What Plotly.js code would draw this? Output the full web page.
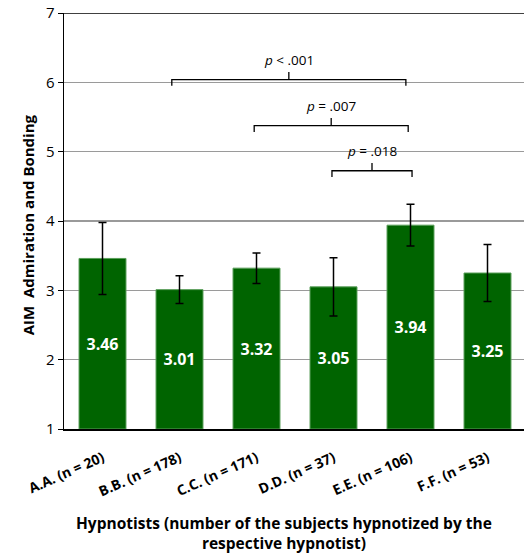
<!DOCTYPE html>
<html>
<head>
<meta charset="utf-8">
<script src="https://cdn.plot.ly/plotly-3.0.1.min.js"></script>
<style>html,body{margin:0;padding:0;background:#fff;}#chart{width:524px;height:556px;}</style>
</head>
<body>
<div id="chart"></div>
<script>
const categories = ["A.A. (n = 20)", "B.B. (n = 178)", "C.C. (n = 171)", "D.D. (n = 37)", "E.E. (n = 106)", "F.F. (n = 53)"];
const means = [3.46, 3.01, 3.32, 3.05, 3.94, 3.25];
const errors = [0.52, 0.20, 0.22, 0.42, 0.30, 0.41];
const yTicks = [1, 2, 3, 4, 5, 6, 7];
const axisMin = 1;

// significance brackets: start, end, level (line), label
const bracketStart = [0.90, 1.97, 2.98];
const bracketEnd = [3.94, 3.97, 4.02];
const bracketLevel = [6.04, 5.375, 4.725];
const bracketLabels = ["<i>p</i> < .001", "<i>p</i> = .007", "<i>p</i> = .018"];

const shapes = [];
const annotations = [];
for (let i = 0; i < bracketStart.length; i++) {
  const x1 = bracketStart[i], x2 = bracketEnd[i], y = bracketLevel[i];
  const xm = (x1 + x2) / 2;
  shapes.push({
    type: "path", xref: "x", yref: "y",
    path: `M ${x1} ${y - 0.09} L ${x1} ${y} L ${x2} ${y} L ${x2} ${y - 0.09} M ${xm} ${y} L ${xm} ${y + 0.11}`,
    line: {color: "#000", width: 1.3}
  });
  annotations.push({
    x: xm, y: y + 0.12, xref: "x", yref: "y", text: bracketLabels[i], showarrow: false,
    yanchor: "bottom", font: {family: "Open Sans, sans-serif", size: 13.5, color: "#000"}
  });
}
shapes.push({type: "line", xref: "paper", yref: "y", x0: 0, x1: 1, y0: 7, y1: 7, line: {color: "#000", width: 1.3}});

annotations.push({
  xref: "paper", yref: "paper", x: 0.478, y: -0.195, yanchor: "top", showarrow: false,
  text: "<b>Hypnotists (number of the subjects hypnotized by the<br>respective hypnotist)</b>",
  font: {family: "Open Sans, sans-serif", size: 15.5, color: "#000"}
});
annotations.push({
  xref: "paper", yref: "paper", x: -0.104, y: 0.49, textangle: -90, showarrow: false,
  text: "<b>AIM  Admiration and Bonding</b>",
  font: {family: "Open Sans, sans-serif", size: 15, color: "#000"}
});

const trace = {
  type: "bar",
  x: categories.map((c, i) => i),
  y: means.map(v => v - axisMin),
  base: axisMin,
  width: 0.61,
  marker: {color: "#006400", line: {color: "#5a9e5a", width: 1}},
  error_y: {type: "data", array: errors, visible: true, color: "#000", thickness: 1.5, width: 4},
  text: means.map(v => v.toFixed(2)),
  textposition: "inside",
  insidetextanchor: "middle",
  textfont: {family: "Open Sans, sans-serif", size: 16, color: "#fff", weight: "bold"},
  constraintext: "none",
  hoverinfo: "none"
};

const layout = {
  width: 524, height: 556,
  margin: {l: 64, r: 0, t: 13, b: 127},
  paper_bgcolor: "#fff", plot_bgcolor: "#fff",
  showlegend: false,
  xaxis: {
    range: [-0.5, 5.474],
    tickmode: "array", tickvals: categories.map((c, i) => i), ticktext: categories.map(c => "<b>" + c + "</b>"),
    tickangle: -24,
    ticklabelstandoff: 14,
    tickfont: {family: "Open Sans, sans-serif", size: 14, color: "#000"},
    showline: true, linecolor: "#000", linewidth: 1.5,
    ticks: "", showgrid: false, zeroline: false, fixedrange: true
  },
  yaxis: {
    range: [1, 7],
    tickmode: "array", tickvals: yTicks,
    tickfont: {family: "Open Sans, sans-serif", size: 15, color: "#000"},
    showline: true, linecolor: "#000", linewidth: 1.5,
    ticks: "outside", ticklen: 5, tickcolor: "#000", tickwidth: 1,
    showgrid: true, gridcolor: "#9a9a9a", gridwidth: 1.5,
    zeroline: false, fixedrange: true
  },
  shapes: shapes,
  annotations: annotations
};

Plotly.newPlot("chart", [trace], layout, {displayModeBar: false, staticPlot: true});
</script>
</body>
</html>
